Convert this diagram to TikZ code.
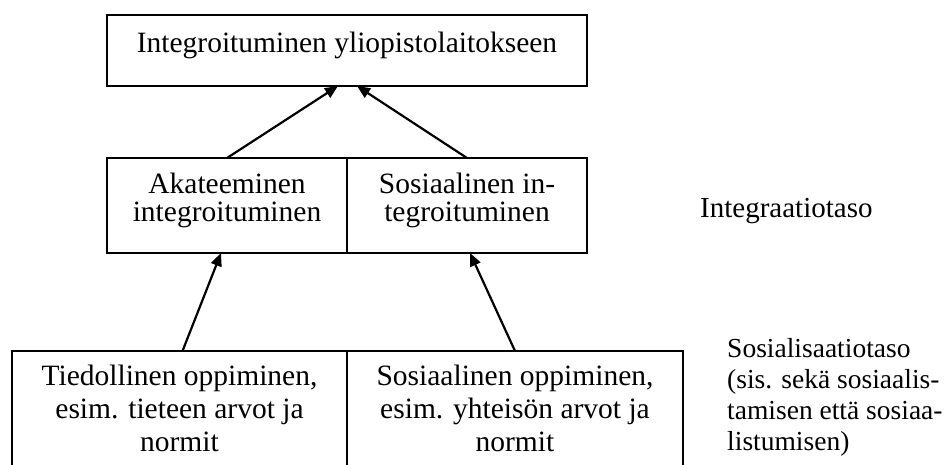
\documentclass[tikz,border=0pt]{standalone}
\usepackage{fontspec}
\setmainfont{Liberation Serif}
\usetikzlibrary{arrows.meta, positioning}

\begin{document}
\begin{tikzpicture}[
x=1pt, y=1pt,
node distance=0pt,
box/.style={draw, rectangle, line width=1.6pt,
inner sep=0pt, outer sep=0pt, align=center,
font=\fontsize{29.5pt}{28pt}\selectfont},
taso/.style={align=left, inner sep=0pt, anchor=base west,
font=\fontsize{27.5pt}{31pt}\selectfont},
arrow/.style={-{Triangle[length=13pt, width=11pt]}, line width=2.2pt}
]

\useasboundingbox (0,0) rectangle (947,-464);
\clip (0,0) rectangle (947,-464);

\node[box, minimum width=480pt, text height=37pt, text depth=34pt, anchor=north] (yliop) at (347,-15) {Integroituminen yliopistolaitokseen};

\node[box, minimum width=240pt, text height=63pt, text depth=32pt, anchor=north east] (akat) at (347,-158) {Akateeminen\\integroituminen};
\node[box, minimum width=240pt, text height=63pt, text depth=32pt, right=of akat] (sosint) {Sosiaalinen in-\\tegroituminen};

\node[box, minimum width=335pt, text height=100pt, text depth=20pt, anchor=north east,
font=\fontsize{29.5pt}{33pt}\selectfont] (tied) at (347,-351) {Tiedollinen oppiminen,\\esim. tieteen arvot ja\\normit};
\node[box, minimum width=336pt, text height=100pt, text depth=20pt, right=of tied,
font=\fontsize{29.5pt}{33pt}\selectfont] (sosopp) {Sosiaalinen oppiminen,\\esim. yhteisön arvot ja\\normit};

\node[taso, font=\fontsize{29pt}{31pt}\selectfont] (integr) at (700,-217) {Integraatiotaso};
\node[taso] (sosial) at (727,-450) {Sosialisaatiotaso\\(sis. sekä sosiaalis-\\tamisen että sosiaa-\\listumisen)};

\draw[arrow] (akat.north) -- ([xshift=-9pt]yliop.south);
\draw[arrow] (sosint.north) -- ([xshift=10pt]yliop.south);
\draw[arrow] ([xshift=3pt]tied.north) -- ([xshift=-6pt]akat.south);
\draw[arrow] (sosopp.north) -- ([xshift=3pt]sosint.south);

\end{tikzpicture}
\end{document}
